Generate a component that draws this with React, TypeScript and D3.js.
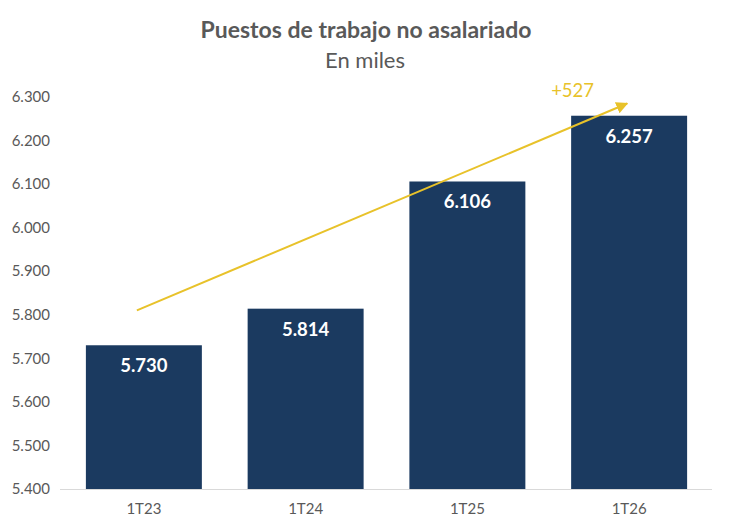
// @ts-nocheck
import { scaleBand, scaleLinear } from "d3";

const categories = ["1T23", "1T24", "1T25", "1T26"];
const values = [5730, 5814, 6106, 6257];
const valueLabels = ["5.730", "5.814", "6.106", "6.257"];
const yTicks = [5400, 5500, 5600, 5700, 5800, 5900, 6000, 6100, 6200, 6300];
const tickLabels = ["5.400", "5.500", "5.600", "5.700", "5.800", "5.900", "6.000", "6.100", "6.200", "6.300"];
// trend arrow: from first category to last category, in data units
const arrowValues = [5810, 6285];
const arrowLabel = "+527";

const width = 730;
const height = 529;
const margin = { top: 97, bottom: 40, left: 63, right: 20 };
const font = "Lato, 'Open Sans', sans-serif";
const grey = "#595959";
const barColor = "#1B3A60";
const yellow = "#E8C22A";

const App = () => {
  const xScale = scaleBand()
    .domain(categories)
    .range([margin.left, width - margin.right])
    .paddingInner(0.283)
    .paddingOuter(0.1415);

  const yScale = scaleLinear()
    .domain([5400, 6300])
    .range([height - margin.bottom, margin.top]);

  const x0 = xScale(categories[0]) + xScale.bandwidth() / 2 - 7;
  const x1 = xScale(categories[3]) + xScale.bandwidth() / 2 - 2;
  const y0 = yScale(arrowValues[0]);
  const y1 = yScale(arrowValues[1]);

  return (
    <svg
      width={width}
      height={height}
      style={{ position: "absolute", left: 0, top: 0, background: "#fff" }}
    >
      <defs>
        <marker
          id="arrow"
          viewBox="0 0 10 10"
          refX="9"
          refY="5"
          markerWidth="6"
          markerHeight="6"
          orient="auto"
        >
          <path d="M0,0 L10,5 L0,10 z" fill={yellow} />
        </marker>
      </defs>
      <text
        x={366}
        y={38}
        textAnchor="middle"
        fontFamily={font}
        fontWeight="bold"
        fontSize={23}
        fill={grey}
      >
        Puestos de trabajo no asalariado
      </text>
      <text
        x={365}
        y={68}
        textAnchor="middle"
        fontFamily={font}
        fontSize={22}
        fill={grey}
      >
        En miles
      </text>

      {yTicks.map((t, i) => (
        <text
          key={t}
          x={50}
          y={yScale(t)}
          dy=".35em"
          textAnchor="end"
          fontFamily={font}
          fontSize={15}
          fill={grey}
        >
          {tickLabels[i]}
        </text>
      ))}

      {values.map((v, i) => (
        <g key={categories[i]}>
          <rect
            x={xScale(categories[i])}
            y={yScale(v)}
            width={xScale.bandwidth()}
            height={yScale(5400) - yScale(v)}
            fill={barColor}
          />
          <text
            x={xScale(categories[i]) + xScale.bandwidth() / 2}
            y={yScale(v) + 27}
            textAnchor="middle"
            fontFamily={font}
            fontWeight="bold"
            fontSize={18.5}
            fill="#fff"
          >
            {valueLabels[i]}
          </text>
        </g>
      ))}

      <line
        x1={60}
        x2={712}
        y1={yScale(5400) + 0.5}
        y2={yScale(5400) + 0.5}
        stroke="#d9d9d9"
      />

      {categories.map((c) => (
        <text
          key={c}
          x={xScale(c) + xScale.bandwidth() / 2}
          y={514}
          textAnchor="middle"
          fontFamily={font}
          fontSize={15}
          fill={grey}
        >
          {c}
        </text>
      ))}

      <line
        x1={x0}
        y1={y0}
        x2={x1}
        y2={y1}
        stroke={yellow}
        strokeWidth={2}
        markerEnd="url(#arrow)"
      />
      <text
        x={x1 - 76}
        y={97}
        fontFamily={font}
        fontSize={18.5}
        fill={yellow}
      >
        {arrowLabel}
      </text>
    </svg>
  );
};

export default App;
